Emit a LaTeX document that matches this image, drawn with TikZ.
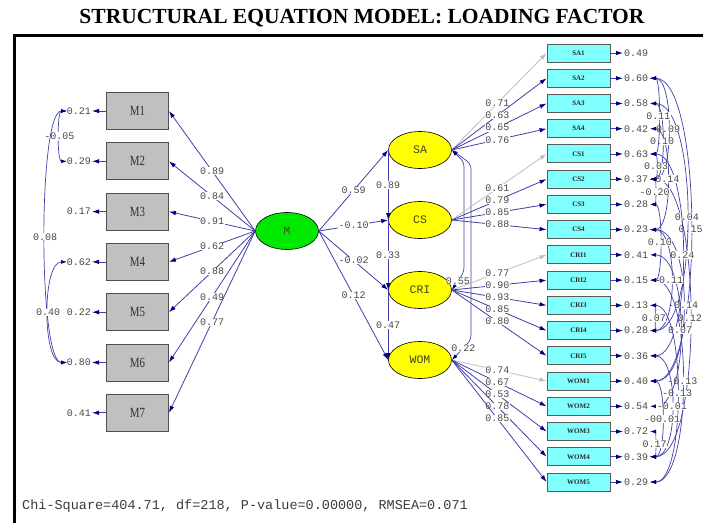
\documentclass[tikz,border=0pt]{standalone}
\usepackage{fontspec}
\setmainfont{Liberation Serif}
\newfontfamily\monof{Liberation Mono}
\newfontfamily\condserif[FakeStretch=0.78]{Liberation Serif}
\usetikzlibrary{arrows.meta,shapes.geometric}
\definecolor{pathblue}{RGB}{64,64,168}
\definecolor{headblue}{RGB}{0,0,128}
\definecolor{numgray}{RGB}{72,72,72}
\definecolor{mgreen}{RGB}{0,232,0}
\definecolor{latyellow}{RGB}{255,255,0}
\definecolor{icyan}{RGB}{128,255,255}
\definecolor{boxgray}{RGB}{192,192,192}
\definecolor{lattext}{RGB}{70,70,30}
\definecolor{fixgray}{RGB}{190,190,190}
\tikzset{
  mbox/.style={draw={rgb,255:red,80;green,80;blue,80}, line width=0.9pt, fill=boxgray, minimum width=62pt, minimum height=37pt, inner sep=0pt, font=\condserif\fontsize{14}{14}\selectfont, text={rgb,255:red,50;green,50;blue,50}},
  ibox/.style={draw={rgb,255:red,90;green,90;blue,90}, line width=0.9pt, fill=icyan, minimum width=63pt, minimum height=18pt, inner sep=0pt, font=\fontsize{7}{7}\selectfont\bfseries, text={rgb,255:red,40;green,40;blue,40}},
  lat/.style={ellipse, draw=black, line width=0.6pt, fill=latyellow, minimum width=63pt, minimum height=37pt, inner sep=0pt, font=\monof\fontsize{11.5}{11.5}\selectfont, text=lattext},
  errl/.style={anchor=east, inner sep=1pt, font=\monof\fontsize{10}{10}\selectfont, text=numgray},
  errr/.style={anchor=west, inner sep=1pt, font=\monof\fontsize{10}{10}\selectfont, text=numgray},
  arr/.style={draw=pathblue, line width=0.8pt, -{Latex[length=7pt,width=4.5pt,color=headblue]}},
  garr/.style={draw=fixgray, line width=0.8pt, -{Latex[length=7pt,width=4.5pt,color=fixgray]}},
  lab/.style={fill=white, inner sep=0.5pt, font=\monof\fontsize{10}{10}\selectfont, text=numgray},
  cov/.style={draw=pathblue, line width=0.7pt, {Latex[length=6pt,width=4pt,color=headblue]}-{Latex[length=6pt,width=4pt,color=headblue]}},
  clab/.style={fill=white, inner sep=0.3pt, font=\monof\fontsize{10}{10}\selectfont, text=numgray},
}
\newcommand{\covarc}[4]{\draw[cov] (c#1) .. controls +(#3,0) and +(#3,0) .. (c#2) node[clab,pos=0.5] {#4};}
\newcommand{\lcovarc}[4]{\draw[cov] (l#1) .. controls +(#3,0) and +(#3,0) .. (l#2) node[clab,pos=0.5] {#4};}
\begin{document}
\begin{tikzpicture}[x=1pt,y=-1pt]
\clip (0,0) rectangle (703,522);
\fill[white] (0,0) rectangle (703,522);
% title
\node (title) at (362,18) {\fontsize{21.5}{21.5}\selectfont\bfseries STRUCTURAL EQUATION MODEL: LOADING FACTOR};
% frame
\draw[line width=3.5pt, black] (14.5,530) -- (14.5,35.5) -- (710,35.5);
% left boxes
\foreach \n/\v [count=\k from 0] in {M1/0.21, M2/0.29, M3/0.17, M4/0.62, M5/0.22, M6/0.80, M7/0.41} {
  \node[mbox] (\n) at (137.5, 111+50.3*\k) {\n};
  \node[errl] (e\n) at (92, 111+50.3*\k) {\v};
  \draw[arr] (\n.west) -- (e\n.east);
  \coordinate (l\n) at (67, 111+50.3*\k);
}
% exogenous latent
\node[lat, fill=mgreen, font=\monof\fontsize{11}{11}\selectfont] (M) at (287,231) {M};
% endogenous latents
\node[lat] (SA) at (420,150) {SA};
\node[lat] (CS) at (420,220) {CS};
\node[lat] (CRI) at (420,290) {CRI};
\node[lat] (WOM) at (420,360) {WOM};
% M -> indicators
\draw[arr] (M.west) -- (M1.east) node[lab,pos=0.5] {0.89};
\draw[arr] (M.west) -- (M2.east) node[lab,pos=0.5] {0.84};
\draw[arr] (M.west) -- (M3.east) node[lab,pos=0.5] {0.91};
\draw[arr] (M.west) -- (M4.east) node[lab,pos=0.5] {0.62};
\draw[arr] (M.west) -- (M5.east) node[lab,pos=0.5] {0.88};
\draw[arr] (M.west) -- (M6.east) node[lab,pos=0.5] {0.49};
\draw[arr] (M.west) -- (M7.east) node[lab,pos=0.5] {0.77};
% left covariances
\lcovarc{M1}{M2}{-10}{-0.05}
\lcovarc{M1}{M6}{-29}{0.08}
\lcovarc{M4}{M6}{-25}{0.40}
% structural paths
\draw[arr] (M.east) -- (SA.west) node[lab,midway] {0.59};
\draw[arr] (M.east) -- (CS.west) node[lab,midway] {-0.10};
\draw[arr] (M.east) -- (CRI.west) node[lab,midway] {-0.02};
\draw[arr] (M.east) -- (WOM.west) node[lab,midway] {0.12};
\draw[arr] (SA.west) -- (CS.west) node[lab,midway] {0.89};
\draw[arr] (CS.west) -- (CRI.west) node[lab,midway] {0.33};
\draw[arr] (CRI.west) -- (WOM.west) node[lab,midway] {0.47};
% latent covariances
\draw[cov, rounded corners=5pt] (SA.east) -- (464,162) -- (464,272) -- (CRI.east) node[clab,pos=0.5] {0.55};
\draw[cov, rounded corners=5pt] (SA.east) -- (471,164) -- (471,340) -- (WOM.east) node[clab,pos=0.4] {0.22};
% right indicators
\foreach \n/\v [count=\k from 0] in {SA1/0.49, SA2/0.60, SA3/0.58, SA4/0.42, CS1/0.63, CS2/0.37, CS3/0.28, CS4/0.23, CRI1/0.41, CRI2/0.15, CRI3/0.13, CRI4/0.28, CRI5/0.36, WOM1/0.40, WOM2/0.54, WOM3/0.72, WOM4/0.39, WOM5/0.29} {
  \node[ibox] (\n) at (578.5, 53+25.235*\k) {\n};
  \node[errr] (e\n) at (623, 53+25.235*\k) {\v};
  \draw[arr] (\n.east) -- (e\n.west);
  \coordinate (c\n) at (650, 53+25.235*\k);
}
% loadings
\draw[garr] (SA.east) -- (SA1.west) node[lab,pos=0.48] {0.71};
\draw[arr] (SA.east) -- (SA2.west) node[lab,pos=0.48] {0.63};
\draw[arr] (SA.east) -- (SA3.west) node[lab,pos=0.48] {0.65};
\draw[arr] (SA.east) -- (SA4.west) node[lab,pos=0.48] {0.76};
\draw[garr] (CS.east) -- (CS1.west) node[lab,pos=0.48] {0.61};
\draw[arr] (CS.east) -- (CS2.west) node[lab,pos=0.48] {0.79};
\draw[arr] (CS.east) -- (CS3.west) node[lab,pos=0.48] {0.85};
\draw[arr] (CS.east) -- (CS4.west) node[lab,pos=0.48] {0.88};
\draw[garr] (CRI.east) -- (CRI1.west) node[lab,pos=0.48] {0.77};
\draw[arr] (CRI.east) -- (CRI2.west) node[lab,pos=0.48] {0.90};
\draw[arr] (CRI.east) -- (CRI3.west) node[lab,pos=0.48] {0.93};
\draw[arr] (CRI.east) -- (CRI4.west) node[lab,pos=0.48] {0.85};
\draw[arr] (CRI.east) -- (CRI5.west) node[lab,pos=0.48] {0.80};
\draw[garr] (WOM.east) -- (WOM1.west) node[lab,pos=0.48] {0.74};
\draw[arr] (WOM.east) -- (WOM2.west) node[lab,pos=0.48] {0.67};
\draw[arr] (WOM.east) -- (WOM3.west) node[lab,pos=0.48] {0.53};
\draw[arr] (WOM.east) -- (WOM4.west) node[lab,pos=0.48] {0.78};
\draw[arr] (WOM.east) -- (WOM5.west) node[lab,pos=0.48] {0.85};
% error covariances
\covarc{SA2}{WOM1}{54}{0.15}
\covarc{CS2}{WOM4}{53}{0.12}
\covarc{SA3}{CRI4}{49}{0.04}
\covarc{CS4}{WOM1}{44}{-0.14}
\covarc{CS1}{CRI5}{43}{0.24}
\covarc{CRI2}{WOM5}{43}{-0.13}
\covarc{CRI1}{WOM2}{40}{0.07}
\covarc{CRI3}{WOM5}{36}{-0.13}
\covarc{CRI5}{WOM4}{29}{-0.01}
\covarc{CS4}{CRI4}{28}{0.11}
\covarc{SA2}{CS2}{24}{0.09}
\covarc{SA4}{CS4}{23}{0.14}
\covarc{SA3}{CS2}{16}{0.10}
\covarc{WOM1}{WOM4}{16}{-00.01}
\covarc{CS3}{CRI2}{13}{0.10}
\covarc{SA2}{CS1}{11}{0.11}
\covarc{CS1}{CS2}{8}{0.03}
\covarc{CS2}{CS3}{6}{-0.20}
\covarc{CRI3}{CRI4}{5}{0.07}
\covarc{WOM3}{WOM4}{6}{0.17}
% fit statistics
\node[anchor=west, inner sep=0pt, font=\monof\fontsize{13.5}{13.5}\selectfont, text={rgb,255:red,60;green,60;blue,60}] (fit) at (22,506) {Chi-Square=404.71, df=218, P-value=0.00000, RMSEA=0.071};
\end{tikzpicture}
\end{document}
